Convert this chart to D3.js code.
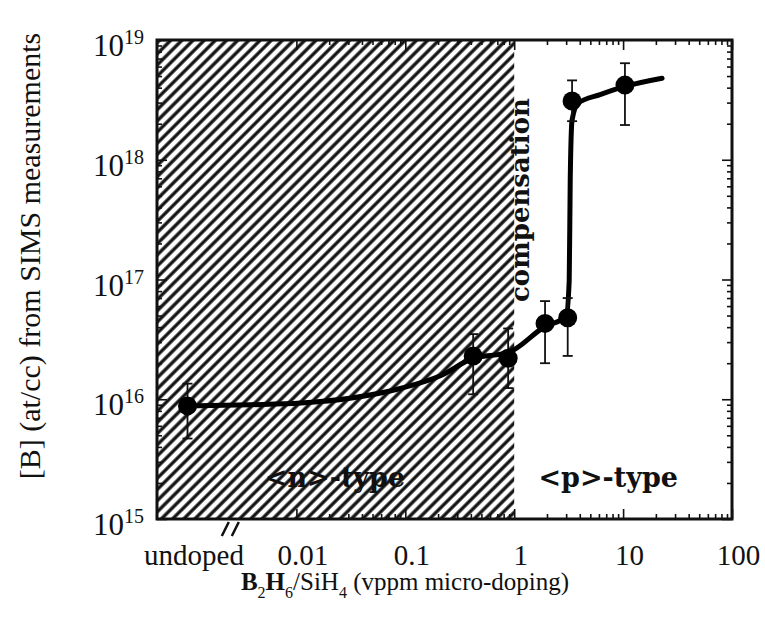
<!DOCTYPE html>
<html>
<head>
<meta charset="utf-8">
<script src="https://cdn.jsdelivr.net/npm/d3@7"></script>
<style>
  body { margin: 0; background: #fff; }
</style>
</head>
<body>
<div class="chart"></div>
<script>
// values
const xTickValues = [0.001, 0.01, 0.1, 1, 10, 100];
const xTickLabels = ["undoped", "0.01", "0.1", "1", "10", "100"];
const yTickValues = [1e15, 1e16, 1e17, 1e18, 1e19];
const yTickExponents = ["15", "16", "17", "18", "19"];

// measured points (undoped plotted at 0.001)
const ratio  = [0.001, 0.42, 0.88, 1.92, 3.1, 3.4, 10.4];
const boron  = [8.8e15, 2.3e16, 2.2e16, 4.3e16, 4.8e16, 3.1e18, 4.2e18];
const errTop = [1.35e16, 3.5e16, 3.9e16, 6.6e16, 7.0e16, 4.6e18, 6.4e18];
const errBot = [4.7e15, 1.1e16, 1.24e16, 2.0e16, 2.3e16, 2.1e18, 1.95e18];

// guide curve drawn through the data
const fitX = [0.001, 0.0038, 0.011, 0.031, 0.09, 0.21, 0.42, 0.88, 1.92, 3.0, 3.2, 3.27, 3.4, 3.87, 6.15, 10.4, 22.8];
const fitY = [8.8e15, 9.0e15, 9.3e15, 1.02e16, 1.23e16, 1.57e16, 2.2e16, 2.45e16, 4.05e16, 4.9e16, 9.8e16, 6.8e17, 2.15e18, 2.97e18, 3.5e18, 4.1e18, 4.8e18];

const hatchEnd = 1;        // n-type region ends at 1 vppm
const breakAt = 0.0025;    // axis break between undoped and 0.01

const serif = '"Liberation Serif", "Times New Roman", serif';
const boldSerif = '"DejaVu Serif", serif';

const margin = ({top: 40, right: 33, bottom: 106, left: 157});
const width = 765 - margin.left - margin.right;
const height = 625 - margin.top - margin.bottom;

const svg = d3.select('.chart').append('svg')
	.attr('width', 765)
	.attr('height', 625)
	.style('background', '#fff');

const defs = svg.append('defs');
const pat = defs.append('pattern')
	.attr('id', 'hatch')
	.attr('patternUnits', 'userSpaceOnUse')
	.attr('width', 7.9)
	.attr('height', 7.9)
	.attr('patternTransform', 'rotate(45)');
pat.append('line')
	.attr('x1', 2).attr('y1', -1)
	.attr('x2', 2).attr('y2', 9)
	.attr('stroke', '#111')
	.attr('stroke-width', 3.3);

const g = svg.append('g')
	.attr('transform', 'translate(' + margin.left + ',' + margin.top + ')');

const xScale = d3.scaleLog()
	.domain([Math.pow(10, -3.28), 100])
	.range([0, width]);

const yScale = d3.scaleLog()
	.domain([1e15, 1e19])
	.range([height, 0]);

// hatched n-type region
g.append('rect')
	.attr('x', 0)
	.attr('y', 0)
	.attr('width', xScale(hatchEnd))
	.attr('height', height)
	.attr('fill', 'url(#hatch)');

// minor tick positions
const xMinor = [];
[0.01, 0.1, 1, 10].forEach(d => { for (let k = 2; k < 10; k++) xMinor.push(d * k); });
const yMinor = [];
[1e15, 1e16, 1e17, 1e18].forEach(d => { for (let k = 2; k < 10; k++) yMinor.push(d * k); });

function minor(axis, vals) {
	return axis.tickValues(vals).tickFormat('').tickSizeInner(-5).tickSizeOuter(0);
}

g.append('g').attr('class', 'axis').attr('transform', `translate(0, ${height})`)
	.call(minor(d3.axisBottom(xScale), xMinor));
g.append('g').attr('class', 'axis')
	.call(minor(d3.axisTop(xScale), xMinor));
g.append('g').attr('class', 'axis')
	.call(minor(d3.axisLeft(yScale), yMinor));
g.append('g').attr('class', 'axis').attr('transform', `translate(${width}, 0)`)
	.call(minor(d3.axisRight(yScale), yMinor));

const xAxis = d3.axisBottom(xScale)
	.tickValues(xTickValues)
	.tickFormat((d, i) => xTickLabels[i])
	.tickSizeInner(-10)
	.tickSizeOuter(0)
	.tickPadding(25);

g.append('g')
	.attr('class', 'axis x-axis')
	.attr('transform', `translate(0, ${height})`)
	.call(xAxis)
	.attr('font-family', serif)
	.attr('font-size', 29);

g.selectAll('.x-axis .tick line')
	.filter(d => d === 0.001)
	.remove();

g.selectAll('.x-axis text')
	.attr('fill', '#111')
	.attr('dx', 6);

g.append('g')
	.attr('class', 'axis')
	.call(d3.axisTop(xScale).tickValues(xTickValues.slice(1)).tickFormat('').tickSizeInner(-10).tickSizeOuter(0));

const yAxis = d3.axisLeft(yScale)
	.tickValues(yTickValues)
	.tickFormat(() => '10')
	.tickSizeInner(-10)
	.tickSizeOuter(0)
	.tickPadding(13);

g.append('g')
	.attr('class', 'axis y-axis')
	.call(yAxis)
	.attr('font-family', serif)
	.attr('font-size', 31);

g.selectAll('.y-axis text')
	.attr('fill', '#111')
	.attr('dy', '0.5em')
	.append('tspan')
	.attr('font-size', '20px')
	.attr('dy', -12)
	.text((d, i) => yTickExponents[i]);

g.append('g')
	.attr('class', 'axis')
	.attr('transform', `translate(${width}, 0)`)
	.call(d3.axisRight(yScale).tickValues(yTickValues).tickFormat('').tickSizeInner(-10).tickSizeOuter(0));

g.selectAll('.axis path.domain').remove();
g.selectAll('.axis line').attr('stroke', '#111').attr('stroke-width', 1.6);

// frame
g.append('rect')
	.attr('width', width)
	.attr('height', height)
	.attr('fill', 'none')
	.attr('stroke', '#111')
	.attr('stroke-width', 3);

// axis break marks
[-5, 5].forEach(off => {
	g.append('line')
		.attr('x1', xScale(breakAt) + off - 4)
		.attr('y1', height + 17)
		.attr('x2', xScale(breakAt) + off + 3)
		.attr('y2', height + 3)
		.attr('stroke', '#111')
		.attr('stroke-width', 2.5);
});

// guide curve
const line = d3.line()
	.x((d, i) => xScale(fitX[i]))
	.y((d, i) => yScale(fitY[i]))
	.curve(d3.curveMonotoneX);

g.append('path')
	.datum(fitX)
	.attr('d', line)
	.attr('fill', 'none')
	.attr('stroke', '#000')
	.attr('stroke-width', 5)
	.attr('stroke-linecap', 'round');

const pts = ratio.map((r, i) => ({x: r, y: boron[i], hi: errTop[i], lo: errBot[i]}));

const bars = g.selectAll('.err')
	.data(pts)
	.enter()
	.append('g')
	.attr('class', 'err')
	.attr('stroke', '#111')
	.attr('stroke-width', 1.8);

bars.append('line')
	.attr('x1', d => xScale(d.x)).attr('x2', d => xScale(d.x))
	.attr('y1', d => yScale(d.hi)).attr('y2', d => yScale(d.lo));
bars.append('line')
	.attr('x1', d => xScale(d.x) - 5).attr('x2', d => xScale(d.x) + 5)
	.attr('y1', d => yScale(d.hi)).attr('y2', d => yScale(d.hi));
bars.append('line')
	.attr('x1', d => xScale(d.x) - 5).attr('x2', d => xScale(d.x) + 5)
	.attr('y1', d => yScale(d.lo)).attr('y2', d => yScale(d.lo));

g.selectAll('.dot')
	.data(pts)
	.enter()
	.append('circle')
	.attr('class', 'dot')
	.attr('cx', d => xScale(d.x))
	.attr('cy', d => yScale(d.y))
	.attr('r', 9.5)
	.attr('fill', '#000');

// region labels
g.append('text')
	.attr('x', xScale(0.0226))
	.attr('y', height - 32)
	.attr('text-anchor', 'middle')
	.attr('font-family', boldSerif)
	.attr('font-weight', 'bold')
	.attr('font-size', '27px')
	.attr('fill', '#111')
	.text('<n>-type');

g.append('text')
	.attr('x', xScale(7.3))
	.attr('y', height - 32)
	.attr('text-anchor', 'middle')
	.attr('font-family', boldSerif)
	.attr('font-weight', 'bold')
	.attr('font-size', '27px')
	.attr('fill', '#111')
	.text('<p>-type');

g.append('text')
	.attr('transform', `translate(${xScale(hatchEnd) + 15}, 160) rotate(-90)`)
	.attr('text-anchor', 'middle')
	.attr('font-family', boldSerif)
	.attr('font-weight', 'bold')
	.attr('font-size', '26px')
	.attr('fill', '#111')
	.text('compensation');

// axis titles
svg.append('text')
	.attr('transform', 'translate(40, 256) rotate(-90)')
	.attr('text-anchor', 'middle')
	.attr('font-family', serif)
	.attr('font-size', '30px')
	.attr('fill', '#111')
	.text('[B] (at/cc) from SIMS measurements');

const xt = svg.append('text')
	.attr('x', 405)
	.attr('y', 590)
	.attr('text-anchor', 'middle')
	.attr('font-family', serif)
	.attr('font-size', '25px')
	.attr('fill', '#111');
xt.append('tspan').attr('font-weight', 'bold').text('B');
xt.append('tspan').attr('font-size', '16px').attr('dy', 8).text('2');
xt.append('tspan').attr('font-weight', 'bold').attr('dy', -8).text('H');
xt.append('tspan').attr('font-size', '16px').attr('dy', 8).text('6');
xt.append('tspan').attr('dy', -8).text('/SiH');
xt.append('tspan').attr('font-size', '16px').attr('dy', 8).text('4');
xt.append('tspan').attr('dy', -8).text(' (vppm micro-doping)');
</script>
</body>
</html>
